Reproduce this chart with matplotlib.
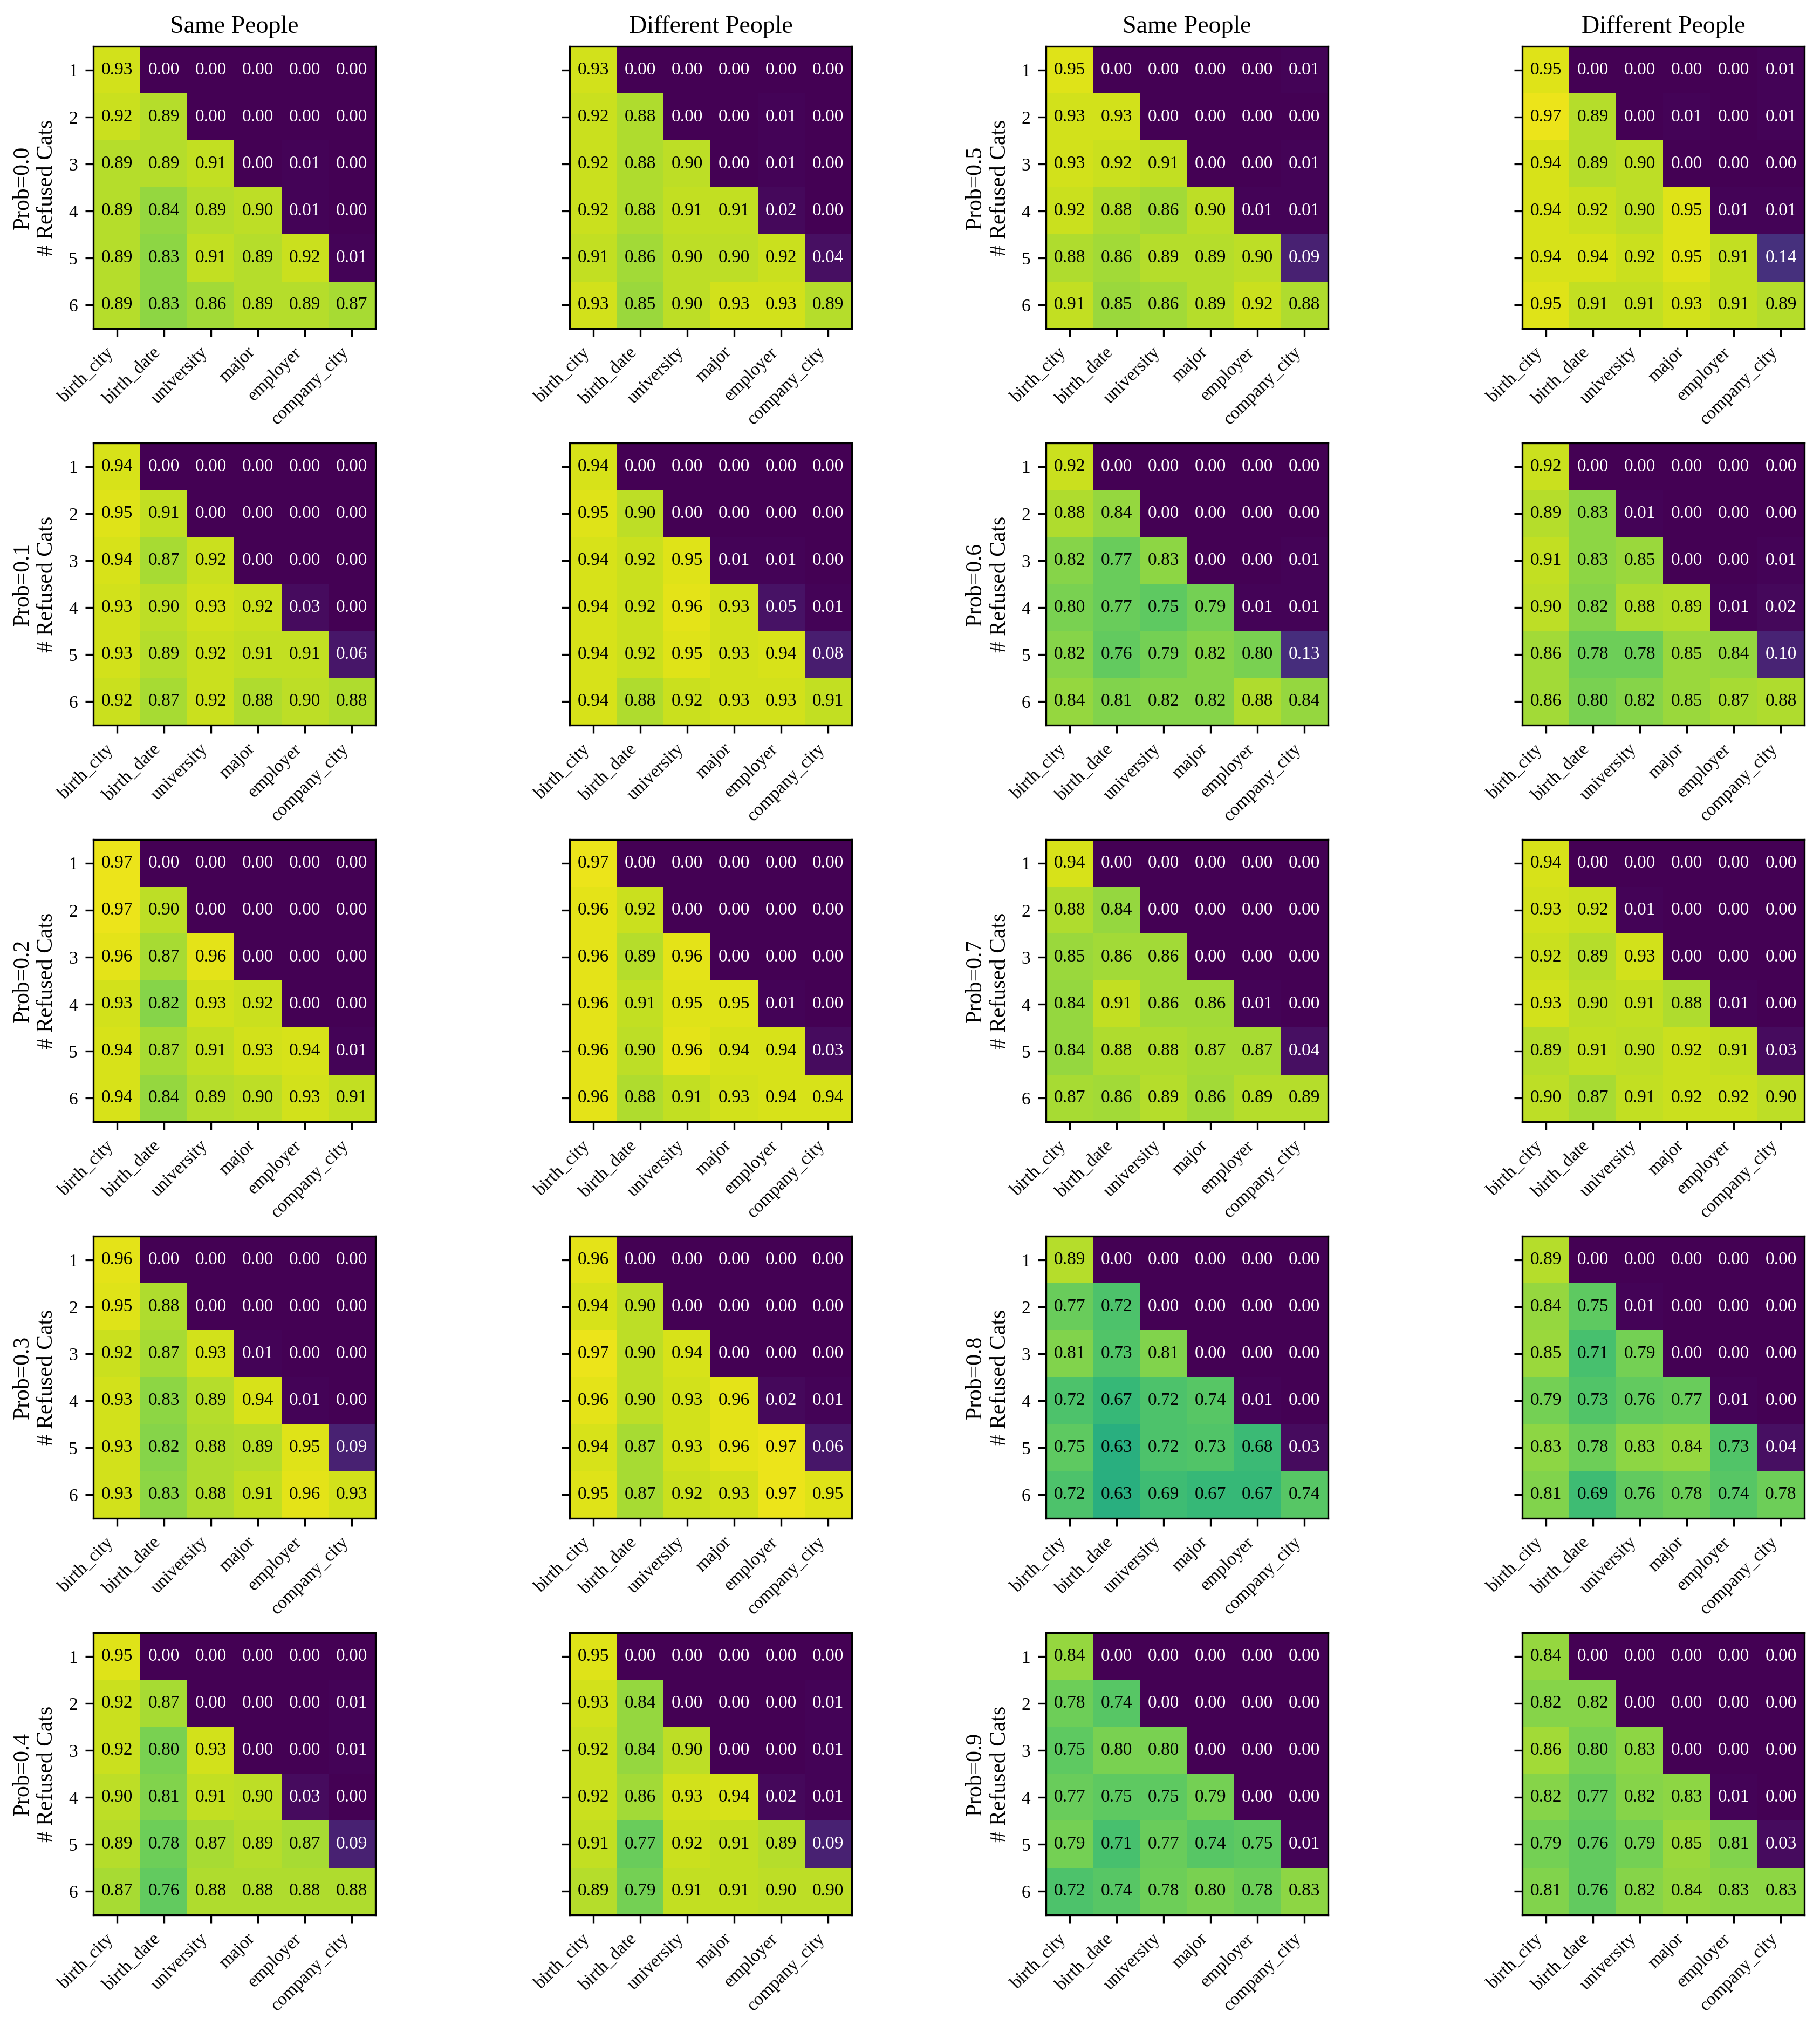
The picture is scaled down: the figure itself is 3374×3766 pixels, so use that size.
import numpy as np
import matplotlib
matplotlib.use('Agg')
import matplotlib.pyplot as plt

plt.rcParams['font.family'] = ['Liberation Serif', 'DejaVu Serif']

# ── 轴标签 ──────────────────────────────────────────────
categories = ['birth_city', 'birth_date', 'university', 'major', 'employer', 'company_city']
n_refused = [1, 2, 3, 4, 5, 6]
probs = ['0.0', '0.1', '0.2', '0.3', '0.4', '0.5', '0.6', '0.7', '0.8', '0.9']

# ── 每个 Prob 的 Same / Different 矩阵 (行 = # Refused Cats) ──
same_00 = [[0.93, 0.00, 0.00, 0.00, 0.00, 0.00],
           [0.92, 0.89, 0.00, 0.00, 0.00, 0.00],
           [0.89, 0.89, 0.91, 0.00, 0.01, 0.00],
           [0.89, 0.84, 0.89, 0.90, 0.01, 0.00],
           [0.89, 0.83, 0.91, 0.89, 0.92, 0.01],
           [0.89, 0.83, 0.86, 0.89, 0.89, 0.87]]
diff_00 = [[0.93, 0.00, 0.00, 0.00, 0.00, 0.00],
           [0.92, 0.88, 0.00, 0.00, 0.01, 0.00],
           [0.92, 0.88, 0.90, 0.00, 0.01, 0.00],
           [0.92, 0.88, 0.91, 0.91, 0.02, 0.00],
           [0.91, 0.86, 0.90, 0.90, 0.92, 0.04],
           [0.93, 0.85, 0.90, 0.93, 0.93, 0.89]]
same_01 = [[0.94, 0.00, 0.00, 0.00, 0.00, 0.00],
           [0.95, 0.91, 0.00, 0.00, 0.00, 0.00],
           [0.94, 0.87, 0.92, 0.00, 0.00, 0.00],
           [0.93, 0.90, 0.93, 0.92, 0.03, 0.00],
           [0.93, 0.89, 0.92, 0.91, 0.91, 0.06],
           [0.92, 0.87, 0.92, 0.88, 0.90, 0.88]]
diff_01 = [[0.94, 0.00, 0.00, 0.00, 0.00, 0.00],
           [0.95, 0.90, 0.00, 0.00, 0.00, 0.00],
           [0.94, 0.92, 0.95, 0.01, 0.01, 0.00],
           [0.94, 0.92, 0.96, 0.93, 0.05, 0.01],
           [0.94, 0.92, 0.95, 0.93, 0.94, 0.08],
           [0.94, 0.88, 0.92, 0.93, 0.93, 0.91]]
same_02 = [[0.97, 0.00, 0.00, 0.00, 0.00, 0.00],
           [0.97, 0.90, 0.00, 0.00, 0.00, 0.00],
           [0.96, 0.87, 0.96, 0.00, 0.00, 0.00],
           [0.93, 0.82, 0.93, 0.92, 0.00, 0.00],
           [0.94, 0.87, 0.91, 0.93, 0.94, 0.01],
           [0.94, 0.84, 0.89, 0.90, 0.93, 0.91]]
diff_02 = [[0.97, 0.00, 0.00, 0.00, 0.00, 0.00],
           [0.96, 0.92, 0.00, 0.00, 0.00, 0.00],
           [0.96, 0.89, 0.96, 0.00, 0.00, 0.00],
           [0.96, 0.91, 0.95, 0.95, 0.01, 0.00],
           [0.96, 0.90, 0.96, 0.94, 0.94, 0.03],
           [0.96, 0.88, 0.91, 0.93, 0.94, 0.94]]
same_03 = [[0.96, 0.00, 0.00, 0.00, 0.00, 0.00],
           [0.95, 0.88, 0.00, 0.00, 0.00, 0.00],
           [0.92, 0.87, 0.93, 0.01, 0.00, 0.00],
           [0.93, 0.83, 0.89, 0.94, 0.01, 0.00],
           [0.93, 0.82, 0.88, 0.89, 0.95, 0.09],
           [0.93, 0.83, 0.88, 0.91, 0.96, 0.93]]
diff_03 = [[0.96, 0.00, 0.00, 0.00, 0.00, 0.00],
           [0.94, 0.90, 0.00, 0.00, 0.00, 0.00],
           [0.97, 0.90, 0.94, 0.00, 0.00, 0.00],
           [0.96, 0.90, 0.93, 0.96, 0.02, 0.01],
           [0.94, 0.87, 0.93, 0.96, 0.97, 0.06],
           [0.95, 0.87, 0.92, 0.93, 0.97, 0.95]]
same_04 = [[0.95, 0.00, 0.00, 0.00, 0.00, 0.00],
           [0.92, 0.87, 0.00, 0.00, 0.00, 0.01],
           [0.92, 0.80, 0.93, 0.00, 0.00, 0.01],
           [0.90, 0.81, 0.91, 0.90, 0.03, 0.00],
           [0.89, 0.78, 0.87, 0.89, 0.87, 0.09],
           [0.87, 0.76, 0.88, 0.88, 0.88, 0.88]]
diff_04 = [[0.95, 0.00, 0.00, 0.00, 0.00, 0.00],
           [0.93, 0.84, 0.00, 0.00, 0.00, 0.01],
           [0.92, 0.84, 0.90, 0.00, 0.00, 0.01],
           [0.92, 0.86, 0.93, 0.94, 0.02, 0.01],
           [0.91, 0.77, 0.92, 0.91, 0.89, 0.09],
           [0.89, 0.79, 0.91, 0.91, 0.90, 0.90]]
same_05 = [[0.95, 0.00, 0.00, 0.00, 0.00, 0.01],
           [0.93, 0.93, 0.00, 0.00, 0.00, 0.00],
           [0.93, 0.92, 0.91, 0.00, 0.00, 0.01],
           [0.92, 0.88, 0.86, 0.90, 0.01, 0.01],
           [0.88, 0.86, 0.89, 0.89, 0.90, 0.09],
           [0.91, 0.85, 0.86, 0.89, 0.92, 0.88]]
diff_05 = [[0.95, 0.00, 0.00, 0.00, 0.00, 0.01],
           [0.97, 0.89, 0.00, 0.01, 0.00, 0.01],
           [0.94, 0.89, 0.90, 0.00, 0.00, 0.00],
           [0.94, 0.92, 0.90, 0.95, 0.01, 0.01],
           [0.94, 0.94, 0.92, 0.95, 0.91, 0.14],
           [0.95, 0.91, 0.91, 0.93, 0.91, 0.89]]
same_06 = [[0.92, 0.00, 0.00, 0.00, 0.00, 0.00],
           [0.88, 0.84, 0.00, 0.00, 0.00, 0.00],
           [0.82, 0.77, 0.83, 0.00, 0.00, 0.01],
           [0.80, 0.77, 0.75, 0.79, 0.01, 0.01],
           [0.82, 0.76, 0.79, 0.82, 0.80, 0.13],
           [0.84, 0.81, 0.82, 0.82, 0.88, 0.84]]
diff_06 = [[0.92, 0.00, 0.00, 0.00, 0.00, 0.00],
           [0.89, 0.83, 0.01, 0.00, 0.00, 0.00],
           [0.91, 0.83, 0.85, 0.00, 0.00, 0.01],
           [0.90, 0.82, 0.88, 0.89, 0.01, 0.02],
           [0.86, 0.78, 0.78, 0.85, 0.84, 0.10],
           [0.86, 0.80, 0.82, 0.85, 0.87, 0.88]]
same_07 = [[0.94, 0.00, 0.00, 0.00, 0.00, 0.00],
           [0.88, 0.84, 0.00, 0.00, 0.00, 0.00],
           [0.85, 0.86, 0.86, 0.00, 0.00, 0.00],
           [0.84, 0.91, 0.86, 0.86, 0.01, 0.00],
           [0.84, 0.88, 0.88, 0.87, 0.87, 0.04],
           [0.87, 0.86, 0.89, 0.86, 0.89, 0.89]]
diff_07 = [[0.94, 0.00, 0.00, 0.00, 0.00, 0.00],
           [0.93, 0.92, 0.01, 0.00, 0.00, 0.00],
           [0.92, 0.89, 0.93, 0.00, 0.00, 0.00],
           [0.93, 0.90, 0.91, 0.88, 0.01, 0.00],
           [0.89, 0.91, 0.90, 0.92, 0.91, 0.03],
           [0.90, 0.87, 0.91, 0.92, 0.92, 0.90]]
same_08 = [[0.89, 0.00, 0.00, 0.00, 0.00, 0.00],
           [0.77, 0.72, 0.00, 0.00, 0.00, 0.00],
           [0.81, 0.73, 0.81, 0.00, 0.00, 0.00],
           [0.72, 0.67, 0.72, 0.74, 0.01, 0.00],
           [0.75, 0.63, 0.72, 0.73, 0.68, 0.03],
           [0.72, 0.63, 0.69, 0.67, 0.67, 0.74]]
diff_08 = [[0.89, 0.00, 0.00, 0.00, 0.00, 0.00],
           [0.84, 0.75, 0.01, 0.00, 0.00, 0.00],
           [0.85, 0.71, 0.79, 0.00, 0.00, 0.00],
           [0.79, 0.73, 0.76, 0.77, 0.01, 0.00],
           [0.83, 0.78, 0.83, 0.84, 0.73, 0.04],
           [0.81, 0.69, 0.76, 0.78, 0.74, 0.78]]
same_09 = [[0.84, 0.00, 0.00, 0.00, 0.00, 0.00],
           [0.78, 0.74, 0.00, 0.00, 0.00, 0.00],
           [0.75, 0.80, 0.80, 0.00, 0.00, 0.00],
           [0.77, 0.75, 0.75, 0.79, 0.00, 0.00],
           [0.79, 0.71, 0.77, 0.74, 0.75, 0.01],
           [0.72, 0.74, 0.78, 0.80, 0.78, 0.83]]
diff_09 = [[0.84, 0.00, 0.00, 0.00, 0.00, 0.00],
           [0.82, 0.82, 0.00, 0.00, 0.00, 0.00],
           [0.86, 0.80, 0.83, 0.00, 0.00, 0.00],
           [0.82, 0.77, 0.82, 0.83, 0.01, 0.00],
           [0.79, 0.76, 0.79, 0.85, 0.81, 0.03],
           [0.81, 0.76, 0.82, 0.84, 0.83, 0.83]]

same_list = [same_00, same_01, same_02, same_03, same_04,
             same_05, same_06, same_07, same_08, same_09]
diff_list = [diff_00, diff_01, diff_02, diff_03, diff_04,
             diff_05, diff_06, diff_07, diff_08, diff_09]


def draw_heatmap(ax, mat, show_ylabels, ylabel=None, title=None):
    mat = np.asarray(mat)
    ax.imshow(mat, cmap='viridis', vmin=0, vmax=1, aspect='equal')
    for i in range(mat.shape[0]):
        for j in range(mat.shape[1]):
            v = mat[i, j]
            ax.text(j, i, f'{v:.2f}', ha='center', va='center', fontsize=8,
                    color='white' if v < 0.5 else 'black')
    ax.set_xticks(range(len(categories)))
    ax.set_xticklabels(categories, rotation=45, ha='right', fontsize=8)
    ax.set_yticks(range(len(n_refused)))
    if show_ylabels:
        ax.set_yticklabels(n_refused, fontsize=8)
    else:
        ax.set_yticklabels([])
    if ylabel:
        ax.set_ylabel(ylabel, fontsize=10, labelpad=5)
    if title:
        ax.set_title(title, fontsize=11)


fig, axes = plt.subplots(5, 4, figsize=(3374 / 300, 3766 / 300))
plt.subplots_adjust(left=0.0513, right=0.9914, top=0.9772, bottom=0.0576,
                    wspace=0.69, hspace=0.405)

for k, p in enumerate(probs):
    r = k % 5
    c = 0 if k < 5 else 2
    draw_heatmap(axes[r, c], same_list[k], True,
                 ylabel=f'Prob={p}\n# Refused Cats',
                 title='Same People' if r == 0 else None)
    draw_heatmap(axes[r, c + 1], diff_list[k], False,
                 title='Different People' if r == 0 else None)

plt.savefig('out.png', dpi=300)
plt.close()
